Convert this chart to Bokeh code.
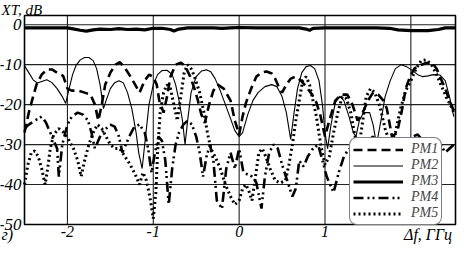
from bokeh.plotting import figure
from bokeh.models import Legend, LegendItem, Range1d
from bokeh.core.properties import value
from bokeh.embed import file_html
from bokeh.resources import INLINE

# ---------------- data ----------------
x_ticks = [-2, -1, 0, 1]
x_tick_labels = ["-2", "-1", "0", "1"]
x_grid = [-2, -1, 0, 1, 2]
y_ticks = [0, -10, -20, -30, -40, -50]
y_tick_labels = ["0", "-10", "-20", "-30", "-40", "-50"]
y_grid = [0, -10, -20, -30, -40]
x_lim = [-2.5, 2.52]
y_lim = [-50, 2.3]
series_names = ["PM1", "PM2", "PM3", "PM4", "PM5"]
y_title = "XT, dB"
x_title = "Δf, ГГц"
x_title_pos = 2.2
panel_tag = "г)"

pm1_x = [-2.5, -2.45, -2.4, -2.36, -2.3, -2.24, -2.18, -2.12, -2.05, -2.0, -1.95, -1.88, -1.8, -1.73,
         -1.68, -1.64, -1.6, -1.56, -1.5, -1.44, -1.39, -1.34, -1.28, -1.22, -1.16, -1.1, -1.05, -1.0,
         -0.96, -0.93, -0.88, -0.84, -0.8, -0.74, -0.68, -0.63, -0.57, -0.52, -0.48, -0.44, -0.4,
         -0.35, -0.3, -0.25, -0.18, -0.1, -0.05, 0.0, 0.04, 0.08, 0.14, 0.2, 0.26, 0.32, 0.38, 0.42,
         0.46, 0.5, 0.55, 0.6, 0.66, 0.72, 0.78, 0.85, 0.9, 0.95, 1.0, 1.05, 1.12, 1.19, 1.26, 1.32,
         1.38, 1.44, 1.5, 1.56, 1.62, 1.68, 1.72, 1.78, 1.84, 1.9, 1.94, 1.99, 2.04, 2.1, 2.18, 2.25,
         2.3, 2.35, 2.4, 2.45, 2.5]
pm1_y = [-27, -22, -18, -15, -12.5, -11.2, -11.2, -12, -12.8, -16, -16.5, -16.5, -17, -17.5,
         -20, -24, -20, -15, -12, -10, -9.4, -10.5, -12.5, -14.7, -17, -14, -12.5, -13,
         -15, -19, -22, -18, -13, -10, -9.5, -10.3, -13, -16, -19, -22.5, -24.6,
         -20, -16.5, -15, -16, -19, -24, -27.5, -23, -19.5, -16, -13, -12, -11.7, -12.2, -13.5,
         -15.5, -17, -15, -13.5, -13, -14, -15.5, -17.5, -19.5, -23, -28, -24, -19, -17.5, -17.5, -20,
         -24, -22, -19, -17, -17.5, -19, -21, -28, -27, -21, -16, -13, -11, -10.2, -9.6, -9.5,
         -11, -13.5, -16, -19, -21.5]

pm2_x = [-2.5, -2.45, -2.4, -2.35, -2.3, -2.24, -2.18, -2.12, -2.06, -2.02, -1.98, -1.94, -1.9,
         -1.85, -1.8, -1.75, -1.7, -1.66, -1.62, -1.58, -1.55, -1.5, -1.45, -1.4, -1.35, -1.3, -1.25,
         -1.2, -1.17, -1.13, -1.1, -1.05, -1.0, -0.95, -0.9, -0.84, -0.78, -0.74, -0.7, -0.66, -0.63,
         -0.6, -0.56, -0.5, -0.44, -0.38, -0.33, -0.28, -0.22, -0.16, -0.1, -0.05, 0.0, 0.04, 0.1,
         0.16, 0.22, 0.3, 0.38, 0.44, 0.5, 0.55, 0.6, 0.64, 0.68, 0.73, 0.78, 0.83, 0.88, 0.93, 0.97,
         1.0, 1.03, 1.07, 1.12, 1.17, 1.22, 1.28, 1.33, 1.36, 1.4, 1.45, 1.52, 1.56, 1.6, 1.66, 1.7,
         1.76, 1.82, 1.89, 1.95, 2.02, 2.08, 2.14, 2.2, 2.26, 2.34, 2.4, 2.45, 2.5]
pm2_y = [-10.3, -12, -13.8, -14.6, -14.2, -13.8, -14.5, -16, -18, -19.7, -16, -12.5, -10.2,
         -8.8, -8.2, -8.2, -9.0, -11, -15, -21, -19, -16, -14.5, -14, -14.5, -17, -21,
         -27, -32, -36, -30, -20, -15, -12.5, -11.5, -11.4, -12.5, -15, -19, -24, -30,
         -24, -17, -13, -11.6, -11.3, -11.8, -13.5, -16.5, -20, -23.5, -26.5, -28, -27, -22.5,
         -19, -17, -15.5, -15, -15.5, -18, -22, -28.7, -22, -16, -12, -10.5, -10.2, -11, -14, -20,
         -27, -31, -25, -19.5, -17.9, -19, -23, -27, -28, -24, -22, -22, -25, -30, -23, -18,
         -14, -11, -10, -10.5, -11.5, -12.5, -13, -12.8, -12.5, -12.6, -14, -18, -23]

pm3_x = [-2.5, -2.0, -1.95, -1.85, -1.78, -1.7, -1.62, -1.5, -1.4, -1.3, -1.2, -1.1, -1.0, -0.9,
         -0.8, -0.76, -0.7, -0.6, -0.3, -0.2, -0.1, 0.0, 0.2, 0.4, 0.7, 0.78, 0.82, 0.86, 1.0, 1.6,
         1.75, 1.85, 2.0, 2.2, 2.32, 2.4, 2.52]
pm3_y = [-0.8, -0.8, -1.0, -1.4, -1.6, -1.3, -1.1, -1.2, -1.0, -1.2, -1.1, -1.3, -0.9, -0.9,
         -1.2, -1.6, -1.1, -0.8, -0.8, -0.9, -0.8, -0.7, -0.8, -0.8, -0.8, -1.1, -1.4, -0.9, -0.8, -0.8,
         -0.9, -1.3, -1.5, -1.5, -1.2, -0.8, -0.8]

pm4_x = [-2.5, -2.45, -2.38, -2.3, -2.25, -2.2, -2.16, -2.12, -2.1, -2.06, -2.0, -1.95, -1.88, -1.82,
         -1.76, -1.72, -1.68, -1.64, -1.6, -1.55, -1.5, -1.45, -1.4, -1.36, -1.32, -1.28, -1.22,
         -1.16, -1.1, -1.06, -1.02, -0.98, -0.94, -0.9, -0.86, -0.82, -0.78, -0.74, -0.7, -0.65,
         -0.6, -0.55, -0.5, -0.46, -0.42, -0.38, -0.34, -0.3, -0.26, -0.2, -0.15, -0.1, -0.05, 0.0,
         0.05, 0.1, 0.15, 0.2, 0.26, 0.3, 0.35, 0.4, 0.45, 0.5, 0.56, 0.62, 0.66, 0.7, 0.75, 0.8,
         0.86, 0.92, 0.97, 1.02, 1.1, 1.16, 1.22, 1.26, 1.32, 1.4, 1.45, 1.5, 1.56, 1.62, 1.7, 1.76,
         1.82, 1.9, 1.96, 2.02, 2.08, 2.14, 2.2, 2.26, 2.32, 2.4, 2.5]
pm4_y = [-26, -25, -24, -23, -24.5, -27, -29, -31, -38, -30, -25, -23, -22, -22.5,
         -24, -27, -31, -29, -27, -26, -25, -25.5, -28, -32, -30, -28, -25.5,
         -25, -27, -31, -37, -32, -28, -29, -34, -45, -36, -30, -27, -25,
         -24, -25, -28, -32, -38, -33, -30, -34, -44, -46, -36, -32, -36, -31,
         -37, -37.5, -38, -39.5, -46, -38, -32, -30, -31, -35, -39, -43, -41, -34, -35.5, -33,
         -31, -30, -34, -38, -42, -37, -33, -31.6, -30.5, -32, -31, -29, -28, -30, -34, -30,
         -28.5, -30, -33, -28, -27.5, -29, -31, -30, -29, -32, -30]

pm5_x = [-2.5, -2.46, -2.42, -2.38, -2.34, -2.3, -2.26, -2.23, -2.2, -2.16, -2.1, -2.04, -1.98,
         -1.93, -1.88, -1.84, -1.8, -1.75, -1.7, -1.65, -1.6, -1.55, -1.5, -1.45, -1.39, -1.33,
         -1.27, -1.21, -1.16, -1.12, -1.08, -1.04, -1.0, -0.97, -0.95, -0.92, -0.88, -0.84, -0.8,
         -0.76, -0.72, -0.68, -0.64, -0.6, -0.56, -0.52, -0.46, -0.41, -0.37, -0.33, -0.28, -0.22,
         -0.16, -0.1, -0.05, 0.0, 0.04, 0.08, 0.12, 0.15, 0.19, 0.23, 0.27, 0.31, 0.36, 0.42, 0.48,
         0.54, 0.58, 0.62, 0.66, 0.7, 0.74, 0.78, 0.82, 0.86, 0.9, 0.95, 1.0, 1.05, 1.1, 1.15, 1.2,
         1.25, 1.3, 1.35, 1.4, 1.44, 1.48, 1.53, 1.58, 1.64, 1.7, 1.76, 1.82, 1.88, 1.94, 2.0, 2.06,
         2.12, 2.18, 2.24, 2.3, 2.36, 2.42, 2.46, 2.5]
pm5_y = [-40, -35, -32, -31.6, -33, -36, -40, -36, -31, -27.5, -26, -27, -29,
         -31, -34, -38, -34, -30, -27, -25, -26, -28, -30, -31, -31, -33,
         -35, -37.5, -40, -37, -39, -43, -48.5, -42, -32, -22, -17, -15, -16,
         -20, -24, -18, -12, -10, -11, -13, -17, -22, -27, -31, -33, -36,
         -40, -43, -45, -44, -41, -40, -42, -44, -38, -32, -31, -33, -36, -39, -39.6,
         -39, -35, -30, -24, -19, -14, -13, -15, -19, -23, -30, -35, -33, -27, -22, -18,
         -18.5, -22, -28, -30, -24, -18, -16, -17, -20.5, -26, -30, -27, -21, -16.5, -14, -11,
         -9, -8.8, -10, -12.5, -15.5, -18.5, -20, -22]

# ---------------- layout (pixels inside the canvas) ----------------
W, H = 458, 245
BOX_L, BOX_R, BOX_T, BOX_B = 24, 455, 15, 224
sx = (BOX_R - BOX_L) / (x_lim[1] - x_lim[0])
sy = (BOX_B - BOX_T) / (y_lim[1] - y_lim[0])
xr = Range1d(x_lim[0] - BOX_L / sx, x_lim[1] + (W - BOX_R) / sx)
yr = Range1d(y_lim[0] - (H - BOX_B) / sy, y_lim[1] + BOX_T / sy)

FONT = value("Liberation Serif")
BLACK = "black"

p = figure(width=W, height=H, output_backend="svg", toolbar_location=None,
           x_range=xr, y_range=yr, min_border=0,
           min_border_left=0, min_border_right=0, min_border_top=0, min_border_bottom=0)
p.axis.visible = False
p.grid.visible = False
p.outline_line_color = None
p.background_fill_color = "white"
p.border_fill_color = "white"

# grid lines inside the plot box
p.segment(x0=x_grid, x1=x_grid, y0=[y_lim[0]] * len(x_grid), y1=[y_lim[1]] * len(x_grid),
          line_color="#222222", line_width=1.1)
p.segment(x0=[x_lim[0]] * len(y_grid), x1=[x_lim[1]] * len(y_grid), y0=y_grid, y1=y_grid,
          line_color="#222222", line_width=1.1)

r3 = p.line(pm3_x, pm3_y, line_color=BLACK, line_width=3.2)
r2 = p.line(pm2_x, pm2_y, line_color=BLACK, line_width=1.1)
r1 = p.line(pm1_x, pm1_y, line_color=BLACK, line_width=2.6, line_dash="9 5")
r4 = p.line(pm4_x, pm4_y, line_color=BLACK, line_width=2.6, line_dash="10 4 2 3 2 4")
r5 = p.line(pm5_x, pm5_y, line_color=BLACK, line_width=3.0, line_dash="2 3")

# plot box
p.quad(left=[x_lim[0]], right=[x_lim[1]], bottom=[y_lim[0]], top=[y_lim[1]],
       fill_color=None, line_color=BLACK, line_width=1.6)

# tick labels and titles
txt = dict(text_font=FONT, text_font_style="italic", text_font_size="16px", text_color=BLACK)
p.text(x=x_ticks, y=[y_lim[0]] * len(x_ticks), text=x_tick_labels,
       text_align="center", text_baseline="top", y_offset=1, **txt)
txt_y = dict(txt, text_font_size="17px")
p.text(x=[x_lim[0]] * len(y_ticks), y=y_ticks, text=y_tick_labels,
       text_align="right", text_baseline="middle", x_offset=-3, **txt_y)
p.text(x=[x_title_pos], y=[y_lim[0]], text=[x_title],
       text_align="center", text_baseline="top", y_offset=1, **txt)
p.text(x=[x_lim[0]], y=[y_lim[0]], text=[panel_tag],
       text_align="left", text_baseline="top", x_offset=-BOX_L + 1, y_offset=1, **txt)
txt_top = dict(txt, text_font_size="15px")
p.text(x=[x_lim[0]], y=[y_lim[1]], text=[y_title],
       text_align="left", text_baseline="top", x_offset=-BOX_L + 1, y_offset=-BOX_T + 1, **txt_top)

legend = Legend(items=[LegendItem(label=n, renderers=[r]) for n, r in
                       zip(series_names, [r1, r2, r3, r4, r5])],
                location=(349, 20), orientation="vertical")
legend.label_text_font = "Liberation Serif"
legend.label_text_font_style = "italic"
legend.label_text_font_size = "14px"
legend.label_height = 13
legend.glyph_height = 13
legend.glyph_width = 50
legend.spacing = 0
legend.padding = 3
legend.margin = 0
legend.label_standoff = 8
legend.border_line_color = BLACK
legend.border_line_width = 1.6
legend.background_fill_color = "white"
legend.background_fill_alpha = 1.0
if "border_radius" in Legend.properties():
    legend.border_radius = 8
p.add_layout(legend, "center")

open("out.html", "w").write(file_html(p, INLINE))
